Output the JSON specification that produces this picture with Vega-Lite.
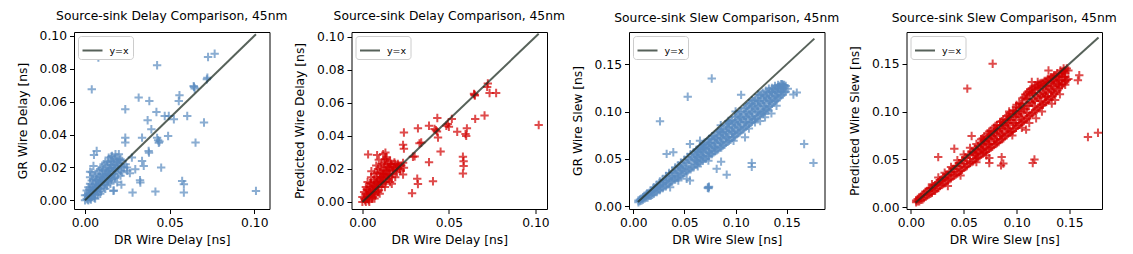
{
"$schema": "https://vega.github.io/schema/vega-lite/v6.json",
"padding": {"left": 15, "top": 9, "right": 5, "bottom": 2},
"bounds": "flush",
"spacing": 81.5,
"config": {
  "font": "DejaVu Sans",
  "view": {"stroke": "black", "strokeWidth": 1},
  "axis": {"grid": false, "domain": false, "tickColor": "black", "tickWidth": 1, "tickSize": 4.5, "labelFontSize": 12.3, "labelColor": "black", "labelPadding": 3, "titleFontSize": 12.3, "titleFontWeight": "normal", "titleColor": "black", "labelFlush": false, "labelOverlap": false, "format": ".2f"},
  "axisY": {"titlePadding": 10},
  "axisX": {"titlePadding": 5},
  "title": {"fontSize": 12.3, "fontWeight": "normal", "color": "black", "offset": 8},
  "legend": {"orient": "top-left", "offset": 4, "padding": 3.5, "strokeColor": "#cccccc", "fillColor": "white", "cornerRadius": 3, "symbolType": "stroke", "symbolSize": 400, "symbolStrokeWidth": 2, "symbolOpacity": 0.74, "labelFontSize": 9.5, "labelColor": "black", "labelOffset": 6}
},
"datasets": {
"d1": [
{"x":0,"y":0},{"x":0.001,"y":0.001},{"x":0.002,"y":0},{"x":0.001,"y":0.003},{"x":0.003,"y":0.001},{"x":0.002,"y":0.004},{"x":0.003,"y":0.006},{"x":0.004,"y":0.002},{"x":0.004,"y":0.008},{"x":0.005,"y":0.004},{"x":0.005,"y":0.006},{"x":0.006,"y":0.01},{"x":0.006,"y":0.003},{"x":0.007,"y":0.007},{"x":0.007,"y":0.012},{"x":0.008,"y":0.005},{"x":0.008,"y":0.009},{"x":0.009,"y":0.014},{"x":0.009,"y":0.007},{"x":0.01,"y":0.011},{"x":0.01,"y":0.016},{"x":0.011,"y":0.008},{"x":0.011,"y":0.013},{"x":0.012,"y":0.018},{"x":0.012,"y":0.011},{"x":0.013,"y":0.015},{"x":0.013,"y":0.021},{"x":0.014,"y":0.012},{"x":0.014,"y":0.018},{"x":0.015,"y":0.024},{"x":0.015,"y":0.015},{"x":0.016,"y":0.02},{"x":0.016,"y":0.027},{"x":0.017,"y":0.016},{"x":0.017,"y":0.022},{"x":0.018,"y":0.028},{"x":0.018,"y":0.019},{"x":0.019,"y":0.025},{"x":0.02,"y":0.021},{"x":0.02,"y":0.028},{"x":0.021,"y":0.018},{"x":0.022,"y":0.024},{"x":0.023,"y":0.02},{"x":0.024,"y":0.022},{"x":0.025,"y":0.018},{"x":0.002,"y":0.008},{"x":0.004,"y":0.012},{"x":0.006,"y":0.015},{"x":0.008,"y":0.018},{"x":0.01,"y":0.02},{"x":0.012,"y":0.023},{"x":0.014,"y":0.026},{"x":0.001,"y":0.006},{"x":0.003,"y":0.01},{"x":0.005,"y":0.013},{"x":0.007,"y":0.016},{"x":0.009,"y":0.019},{"x":0.011,"y":0.022},{"x":0,"y":0.003},{"x":0.006,"y":0.001},{"x":0.009,"y":0.004},{"x":0.012,"y":0.007},{"x":0.015,"y":0.01},{"x":0.018,"y":0.014},{"x":0.021,"y":0.015},{"x":0.017,"y":0.006},{"x":0.013,"y":0.009},{"x":0.019,"y":0.011},{"x":0.022,"y":0.017},{"x":0.016,"y":0.013},{"x":0.003,"y":0.003},{"x":0.006,"y":0.006},{"x":0.009,"y":0.01},{"x":0.012,"y":0.014},{"x":0.015,"y":0.019},{"x":0.019,"y":0.02},{"x":0.021,"y":0.025},{"x":0.004,"y":0.017},{"x":0.003,"y":0.014},
{"x":0.0015,"y":0.0005},{"x":0.0025,"y":0.0025},{"x":0.0035,"y":0.0045},{"x":0.0045,"y":0.0055},{"x":0.0055,"y":0.0075},{"x":0.0065,"y":0.0085},{"x":0.0075,"y":0.0095},{"x":0.0085,"y":0.0115},{"x":0.0095,"y":0.0125},{"x":0.0105,"y":0.0135},{"x":0.0115,"y":0.0155},{"x":0.0125,"y":0.0165},{"x":0.0135,"y":0.0175},{"x":0.0145,"y":0.0195},{"x":0.0155,"y":0.0215},{"x":0.0165,"y":0.0235},{"x":0.0175,"y":0.0255},{"x":0.0185,"y":0.0235},{"x":0.0195,"y":0.0225},{"x":0.0205,"y":0.0245},{"x":0.0135,"y":0.0235},{"x":0.0155,"y":0.0265},{"x":0.0175,"y":0.0195},{"x":0.0105,"y":0.0185},{"x":0.0085,"y":0.0145},{"x":0.0065,"y":0.0125},{"x":0.0045,"y":0.0095},{"x":0.0025,"y":0.0065},{"x":0.0035,"y":0.0005},{"x":0.0055,"y":0.0015},{"x":0.0075,"y":0.0035},{"x":0.0095,"y":0.0055},{"x":0.0115,"y":0.0095},{"x":0.0135,"y":0.0115},{"x":0.0155,"y":0.0125},{"x":0.0175,"y":0.0135},{"x":0.0195,"y":0.0165},{"x":0.0215,"y":0.0205},{"x":0.0165,"y":0.0175},{"x":0.0145,"y":0.0155},
{"x":0.0079,"y":0.0868},{"x":0.004,"y":0.0675},{"x":0.0426,"y":0.0822},{"x":0.0727,"y":0.0872},{"x":0.0766,"y":0.0892},{"x":0.0723,"y":0.0746},{"x":0.072,"y":0.0736},{"x":0.0644,"y":0.069},{"x":0.0648,"y":0.068},{"x":0.0642,"y":0.0695},{"x":0.0558,"y":0.0639},{"x":0.0554,"y":0.0604},{"x":0.0317,"y":0.0625},{"x":0.038,"y":0.0604},{"x":0.0238,"y":0.0554},{"x":0.0422,"y":0.0537},{"x":0.037,"y":0.0487},{"x":0.0392,"y":0.0432},{"x":0.0471,"y":0.0513},{"x":0.0495,"y":0.0513},{"x":0.0525,"y":0.0493},{"x":0.0604,"y":0.0513},{"x":0.0703,"y":0.0473},{"x":0.0491,"y":0.0391},{"x":0.0238,"y":0.0381},{"x":0.0238,"y":0.0351},{"x":0.0337,"y":0.0381},{"x":0.0376,"y":0.03},{"x":0.0378,"y":0.029},{"x":0.0426,"y":0.038},{"x":0.0432,"y":0.0365},{"x":0.0436,"y":0.035},{"x":0.044,"y":0.0358},{"x":0.0653,"y":0.0351},{"x":0.0277,"y":0.026},{"x":0.0337,"y":0.0239},{"x":0.0347,"y":0.0209},{"x":0.045,"y":0.0199},{"x":0.0297,"y":0.0189},{"x":0.0327,"y":0.0108},{"x":0.0325,"y":0.0122},{"x":0.0416,"y":0.0053},{"x":0.0281,"y":0.0047},{"x":0.0574,"y":0.0118},{"x":0.0584,"y":0.0097},{"x":0.0584,"y":0.0047},{"x":0.101,"y":0.0057},{"x":0.0053,"y":0.0276},{"x":0.0069,"y":0.03},{"x":0.005,"y":0.0209},{"x":0.003,"y":0.0174},{"x":0.0168,"y":0.0057},{"x":0.0248,"y":0.0199},{"x":0.0265,"y":0.0165},{"x":0.0215,"y":0.0095}
],
"d2": [
{"x":0,"y":0},{"x":0.001,"y":0.002},{"x":0.002,"y":0},{"x":0.002,"y":0.005},{"x":0.003,"y":0.002},{"x":0.003,"y":0.007},{"x":0.004,"y":0.003},{"x":0.004,"y":0.009},{"x":0.005,"y":0.005},{"x":0.005,"y":0.011},{"x":0.006,"y":0.003},{"x":0.006,"y":0.008},{"x":0.007,"y":0.006},{"x":0.007,"y":0.012},{"x":0.008,"y":0.009},{"x":0.008,"y":0.015},{"x":0.009,"y":0.006},{"x":0.009,"y":0.011},{"x":0.01,"y":0.014},{"x":0.01,"y":0.018},{"x":0.011,"y":0.009},{"x":0.011,"y":0.015},{"x":0.012,"y":0.012},{"x":0.012,"y":0.019},{"x":0.013,"y":0.016},{"x":0.013,"y":0.022},{"x":0.014,"y":0.013},{"x":0.014,"y":0.019},{"x":0.015,"y":0.017},{"x":0.015,"y":0.023},{"x":0.016,"y":0.02},{"x":0.017,"y":0.015},{"x":0.017,"y":0.022},{"x":0.018,"y":0.019},{"x":0.019,"y":0.023},{"x":0.02,"y":0.018},{"x":0.02,"y":0.021},{"x":0.021,"y":0.022},{"x":0.022,"y":0.019},{"x":0.001,"y":0.006},{"x":0.002,"y":0.009},{"x":0.003,"y":0.012},{"x":0.005,"y":0.015},{"x":0.007,"y":0.017},{"x":0.009,"y":0.02},{"x":0.011,"y":0.023},{"x":0.013,"y":0.026},{"x":0.004,"y":0},{"x":0.007,"y":0.002},{"x":0.01,"y":0.005},{"x":0.013,"y":0.009},{"x":0.016,"y":0.012},{"x":0.019,"y":0.015},{"x":0.003,"y":0.004},{"x":0.006,"y":0.006},{"x":0.009,"y":0.009},{"x":0.012,"y":0.015},{"x":0.015,"y":0.014},{"x":0.018,"y":0.021},{"x":0.014,"y":0.027},{"x":0.016,"y":0.025},{"x":0.012,"y":0.029},{"x":0.008,"y":0.022},{"x":0,"y":0.003},{"x":0.017,"y":0.011},
{"x":0.0015,"y":0.001},{"x":0.0025,"y":0.003},{"x":0.0035,"y":0.005},{"x":0.0045,"y":0.006},{"x":0.0055,"y":0.008},{"x":0.0065,"y":0.01},{"x":0.0075,"y":0.01},{"x":0.0085,"y":0.012},{"x":0.0095,"y":0.013},{"x":0.0105,"y":0.015},{"x":0.0115,"y":0.017},{"x":0.0125,"y":0.017},{"x":0.0135,"y":0.019},{"x":0.0145,"y":0.021},{"x":0.0155,"y":0.021},{"x":0.0165,"y":0.023},{"x":0.0175,"y":0.019},{"x":0.0185,"y":0.024},{"x":0.0195,"y":0.02},{"x":0.0205,"y":0.023},{"x":0.0025,"y":0.0075},{"x":0.0045,"y":0.0115},{"x":0.0065,"y":0.0135},{"x":0.0085,"y":0.0175},{"x":0.0105,"y":0.021},{"x":0.0125,"y":0.024},{"x":0.0035,"y":0.001},{"x":0.0055,"y":0.002},{"x":0.0075,"y":0.004},{"x":0.0095,"y":0.007},{"x":0.0115,"y":0.011},{"x":0.0135,"y":0.012},{"x":0.0155,"y":0.016},{"x":0.0175,"y":0.017},{"x":0.0145,"y":0.016},{"x":0.0105,"y":0.012},{"x":0.0065,"y":0.005},{"x":0.0215,"y":0.02},{"x":0.0225,"y":0.022},{"x":0.0095,"y":0.0255},
{"x":0.1019,"y":0.0466},{"x":0.0725,"y":0.0718},{"x":0.0721,"y":0.0697},{"x":0.0773,"y":0.066},{"x":0.0735,"y":0.066},{"x":0.0706,"y":0.0524},{"x":0.0652,"y":0.0503},{"x":0.0648,"y":0.065},{"x":0.0645,"y":0.0655},{"x":0.065,"y":0.0645},{"x":0.0517,"y":0.0503},{"x":0.0494,"y":0.0472},{"x":0.0485,"y":0.0462},{"x":0.05,"y":0.0455},{"x":0.0433,"y":0.0509},{"x":0.0321,"y":0.0446},{"x":0.0385,"y":0.0462},{"x":0.0417,"y":0.0442},{"x":0.0431,"y":0.0427},{"x":0.0437,"y":0.039},{"x":0.0425,"y":0.0435},{"x":0.0548,"y":0.0425},{"x":0.0604,"y":0.0446},{"x":0.0596,"y":0.0411},{"x":0.06,"y":0.04},{"x":0.024,"y":0.0421},{"x":0.0235,"y":0.0346},{"x":0.024,"y":0.0323},{"x":0.034,"y":0.036},{"x":0.033,"y":0.0355},{"x":0.0385,"y":0.0241},{"x":0.0452,"y":0.0305},{"x":0.0292,"y":0.0274},{"x":0.0302,"y":0.0276},{"x":0.0581,"y":0.0274},{"x":0.0585,"y":0.0247},{"x":0.0585,"y":0.0217},{"x":0.0581,"y":0.0172},{"x":0.0408,"y":0.0125},{"x":0.0317,"y":0.0141},{"x":0.0321,"y":0.0108},{"x":0.0287,"y":0.0053},{"x":0.0235,"y":0.0237},{"x":0.024,"y":0.0207},{"x":0.0033,"y":0.0288},{"x":0.0085,"y":0.0284},{"x":0.0133,"y":0.0299},{"x":0.0138,"y":0.0258},{"x":0.0052,"y":0.0186},{"x":0.0235,"y":0.0166}
],
"d3": [
{"x":0.005,"y":0.004},{"x":0.005,"y":0.006},{"x":0.008,"y":0.006},{"x":0.008,"y":0.008},{"x":0.011,"y":0.008},{"x":0.011,"y":0.011},{"x":0.014,"y":0.009},{"x":0.014,"y":0.013},{"x":0.017,"y":0.011},{"x":0.017,"y":0.016},{"x":0.02,"y":0.013},{"x":0.02,"y":0.017},{"x":0.02,"y":0.02},{"x":0.023,"y":0.015},{"x":0.023,"y":0.02},{"x":0.026,"y":0.017},{"x":0.026,"y":0.022},{"x":0.026,"y":0.026},{"x":0.029,"y":0.019},{"x":0.029,"y":0.025},{"x":0.032,"y":0.021},{"x":0.032,"y":0.027},{"x":0.032,"y":0.032},{"x":0.035,"y":0.024},{"x":0.035,"y":0.03},{"x":0.035,"y":0.035},{"x":0.038,"y":0.026},{"x":0.038,"y":0.032},{"x":0.041,"y":0.028},{"x":0.041,"y":0.035},{"x":0.041,"y":0.041},{"x":0.044,"y":0.03},{"x":0.044,"y":0.037},{"x":0.044,"y":0.043},{"x":0.047,"y":0.032},{"x":0.047,"y":0.04},{"x":0.05,"y":0.035},{"x":0.05,"y":0.042},{"x":0.05,"y":0.049},{"x":0.053,"y":0.037},{"x":0.053,"y":0.045},{"x":0.056,"y":0.039},{"x":0.056,"y":0.047},{"x":0.056,"y":0.055},{"x":0.059,"y":0.041},{"x":0.059,"y":0.05},{"x":0.059,"y":0.057},{"x":0.062,"y":0.044},{"x":0.062,"y":0.052},{"x":0.065,"y":0.046},{"x":0.065,"y":0.054},{"x":0.065,"y":0.063},{"x":0.068,"y":0.048},{"x":0.068,"y":0.057},{"x":0.068,"y":0.065},{"x":0.071,"y":0.05},{"x":0.071,"y":0.06},{"x":0.074,"y":0.053},{"x":0.074,"y":0.062},{"x":0.074,"y":0.071},{"x":0.077,"y":0.055},{"x":0.077,"y":0.064},{"x":0.077,"y":0.074},{"x":0.08,"y":0.058},{"x":0.08,"y":0.067},{"x":0.083,"y":0.06},{"x":0.083,"y":0.07},{"x":0.083,"y":0.079},{"x":0.086,"y":0.062},{"x":0.086,"y":0.072},{"x":0.086,"y":0.081},{"x":0.089,"y":0.065},{"x":0.089,"y":0.075},{"x":0.092,"y":0.068},{"x":0.092,"y":0.078},{"x":0.092,"y":0.087},{"x":0.095,"y":0.07},{"x":0.095,"y":0.08},{"x":0.095,"y":0.09},{"x":0.098,"y":0.073},{"x":0.098,"y":0.083},{"x":0.101,"y":0.076},{"x":0.101,"y":0.086},{"x":0.101,"y":0.095},{"x":0.104,"y":0.078},{"x":0.104,"y":0.089},{"x":0.104,"y":0.1},{"x":0.107,"y":0.081},{"x":0.107,"y":0.092},{"x":0.11,"y":0.084},{"x":0.11,"y":0.094},{"x":0.11,"y":0.104},{"x":0.113,"y":0.087},{"x":0.113,"y":0.097},{"x":0.113,"y":0.108},{"x":0.116,"y":0.089},{"x":0.116,"y":0.1},{"x":0.119,"y":0.092},{"x":0.119,"y":0.103},{"x":0.119,"y":0.112},{"x":0.122,"y":0.095},{"x":0.122,"y":0.106},{"x":0.125,"y":0.098},{"x":0.125,"y":0.109},{"x":0.125,"y":0.118},{"x":0.128,"y":0.1},{"x":0.128,"y":0.111},{"x":0.131,"y":0.103},{"x":0.131,"y":0.114},{"x":0.131,"y":0.121},{"x":0.134,"y":0.106},{"x":0.134,"y":0.116},{"x":0.137,"y":0.11},{"x":0.137,"y":0.119},{"x":0.137,"y":0.124},{"x":0.14,"y":0.112},{"x":0.14,"y":0.121},{"x":0.143,"y":0.115},{"x":0.143,"y":0.124},{"x":0.143,"y":0.127},{"x":0.146,"y":0.118},{"x":0.146,"y":0.126},{"x":0.149,"y":0.121},{"x":0.149,"y":0.127},{"x":0.151,"y":0.124},
{"x":0.0065,"y":0.0055},{"x":0.0065,"y":0.007},{"x":0.0095,"y":0.007},{"x":0.0095,"y":0.0095},{"x":0.0125,"y":0.009},{"x":0.0125,"y":0.012},{"x":0.0155,"y":0.011},{"x":0.0155,"y":0.014},{"x":0.0185,"y":0.012},{"x":0.0185,"y":0.016},{"x":0.0215,"y":0.015},{"x":0.0215,"y":0.019},{"x":0.0245,"y":0.017},{"x":0.0245,"y":0.021},{"x":0.0275,"y":0.019},{"x":0.0275,"y":0.024},{"x":0.0305,"y":0.021},{"x":0.0305,"y":0.027},{"x":0.0335,"y":0.023},{"x":0.0335,"y":0.029},{"x":0.0365,"y":0.026},{"x":0.0365,"y":0.032},{"x":0.0395,"y":0.028},{"x":0.0395,"y":0.035},{"x":0.0425,"y":0.03},{"x":0.0425,"y":0.038},{"x":0.0455,"y":0.032},{"x":0.0455,"y":0.041},{"x":0.0485,"y":0.034},{"x":0.0485,"y":0.043},{"x":0.0515,"y":0.037},{"x":0.0515,"y":0.046},{"x":0.0545,"y":0.039},{"x":0.0545,"y":0.049},{"x":0.0575,"y":0.041},{"x":0.0575,"y":0.052},{"x":0.0605,"y":0.044},{"x":0.0605,"y":0.054},{"x":0.0635,"y":0.046},{"x":0.0635,"y":0.057},{"x":0.0665,"y":0.048},{"x":0.0665,"y":0.06},{"x":0.0695,"y":0.05},{"x":0.0695,"y":0.062},{"x":0.0725,"y":0.053},{"x":0.0725,"y":0.065},{"x":0.0755,"y":0.055},{"x":0.0755,"y":0.067},{"x":0.0785,"y":0.057},{"x":0.0785,"y":0.07},{"x":0.0815,"y":0.059},{"x":0.0815,"y":0.072},{"x":0.0845,"y":0.062},{"x":0.0845,"y":0.075},{"x":0.0875,"y":0.064},{"x":0.0875,"y":0.078},{"x":0.0905,"y":0.067},{"x":0.0905,"y":0.08},{"x":0.0935,"y":0.069},{"x":0.0935,"y":0.083},{"x":0.0965,"y":0.072},{"x":0.0965,"y":0.086},{"x":0.0995,"y":0.074},{"x":0.0995,"y":0.089},{"x":0.1025,"y":0.077},{"x":0.1025,"y":0.091},{"x":0.1055,"y":0.08},{"x":0.1055,"y":0.094},{"x":0.1085,"y":0.082},{"x":0.1085,"y":0.097},{"x":0.1115,"y":0.085},{"x":0.1115,"y":0.1},{"x":0.1145,"y":0.088},{"x":0.1145,"y":0.103},{"x":0.1175,"y":0.091},{"x":0.1175,"y":0.106},{"x":0.1205,"y":0.093},{"x":0.1205,"y":0.108},{"x":0.1235,"y":0.096},{"x":0.1235,"y":0.111},{"x":0.1265,"y":0.099},{"x":0.1265,"y":0.114},{"x":0.1295,"y":0.102},{"x":0.1295,"y":0.116},{"x":0.1325,"y":0.105},{"x":0.1325,"y":0.119},{"x":0.1355,"y":0.108},{"x":0.1355,"y":0.121},{"x":0.1385,"y":0.111},{"x":0.1385,"y":0.123},{"x":0.1415,"y":0.114},{"x":0.1415,"y":0.125},{"x":0.1445,"y":0.117},{"x":0.1445,"y":0.125},{"x":0.1475,"y":0.12},{"x":0.1475,"y":0.128},
{"x":0.0605,"y":0.049},{"x":0.0635,"y":0.052},{"x":0.0635,"y":0.06},{"x":0.0665,"y":0.054},{"x":0.0665,"y":0.062},{"x":0.0695,"y":0.056},{"x":0.0695,"y":0.065},{"x":0.0725,"y":0.059},{"x":0.0725,"y":0.069},{"x":0.0755,"y":0.061},{"x":0.0755,"y":0.071},{"x":0.0785,"y":0.063},{"x":0.0785,"y":0.074},{"x":0.0815,"y":0.066},{"x":0.0815,"y":0.077},{"x":0.0845,"y":0.068},{"x":0.0845,"y":0.079},{"x":0.0875,"y":0.071},{"x":0.0875,"y":0.082},{"x":0.0905,"y":0.073},{"x":0.0905,"y":0.085},{"x":0.0935,"y":0.076},{"x":0.0935,"y":0.088},{"x":0.0965,"y":0.079},{"x":0.0965,"y":0.091},{"x":0.0995,"y":0.081},{"x":0.0995,"y":0.094},{"x":0.1025,"y":0.084},{"x":0.1025,"y":0.097},{"x":0.1055,"y":0.087},{"x":0.1055,"y":0.1},{"x":0.1085,"y":0.089},{"x":0.1085,"y":0.103},{"x":0.1115,"y":0.092},{"x":0.1115,"y":0.106},{"x":0.1145,"y":0.095},{"x":0.1145,"y":0.109},{"x":0.1175,"y":0.098},{"x":0.1175,"y":0.111},{"x":0.1205,"y":0.1},{"x":0.1205,"y":0.114},{"x":0.1235,"y":0.103},{"x":0.1235,"y":0.117},{"x":0.1265,"y":0.106},{"x":0.1265,"y":0.12},{"x":0.1295,"y":0.109},{"x":0.1295,"y":0.122},{"x":0.1325,"y":0.112},{"x":0.1325,"y":0.124},{"x":0.1355,"y":0.114},{"x":0.1355,"y":0.125},{"x":0.1385,"y":0.117},{"x":0.1385,"y":0.127},{"x":0.1415,"y":0.12},{"x":0.1415,"y":0.128},{"x":0.1445,"y":0.121},{"x":0.1445,"y":0.129},
{"x":0.062,"y":0.048},{"x":0.062,"y":0.058},{"x":0.068,"y":0.052},{"x":0.068,"y":0.061},{"x":0.074,"y":0.057},{"x":0.074,"y":0.067},{"x":0.08,"y":0.062},{"x":0.08,"y":0.072},{"x":0.086,"y":0.067},{"x":0.086,"y":0.077},{"x":0.092,"y":0.073},{"x":0.092,"y":0.083},{"x":0.098,"y":0.078},{"x":0.098,"y":0.088},{"x":0.104,"y":0.083},{"x":0.104,"y":0.094},{"x":0.11,"y":0.089},{"x":0.11,"y":0.099},{"x":0.116,"y":0.094},{"x":0.116,"y":0.105},{"x":0.122,"y":0.1},{"x":0.122,"y":0.111},{"x":0.128,"y":0.105},{"x":0.128,"y":0.116},{"x":0.134,"y":0.111},{"x":0.134,"y":0.121},{"x":0.14,"y":0.116},{"x":0.14,"y":0.125},{"x":0.146,"y":0.122},{"x":0.146,"y":0.128},
{"x":0.0135,"y":0.0135},{"x":0.0225,"y":0.022},{"x":0.0285,"y":0.028},{"x":0.038,"y":0.037},{"x":0.0465,"y":0.046},{"x":0.053,"y":0.052},{"x":0.0615,"y":0.059},{"x":0.0695,"y":0.067},
{"x":0.0767,"y":0.1349},{"x":0.0532,"y":0.1156},{"x":0.0261,"y":0.0896},{"x":0.1054,"y":0.1176},{"x":0.1598,"y":0.12},{"x":0.1565,"y":0.118},{"x":0.167,"y":0.0657},{"x":0.1761,"y":0.0457},{"x":0.1158,"y":0.0457},{"x":0.1158,"y":0.0415},{"x":0.0858,"y":0.047},{"x":0.0815,"y":0.0394},{"x":0.0913,"y":0.0333},{"x":0.0734,"y":0.02},{"x":0.0728,"y":0.0195},{"x":0.074,"y":0.0205},{"x":0.0736,"y":0.0188},{"x":0.0554,"y":0.0271},{"x":0.0391,"y":0.0569},{"x":0.0326,"y":0.0552},{"x":0.0554,"y":0.0656},{"x":0.0652,"y":0.0691},{"x":0.1092,"y":0.0727},{"x":0.0734,"y":0.0481},{"x":0.1288,"y":0.0939},{"x":0.1272,"y":0.0974},{"x":0.1321,"y":0.1009},{"x":0.119,"y":0.0885},{"x":0.0473,"y":0.0394},{"x":0.0522,"y":0.0289},{"x":0.1468,"y":0.1271},{"x":0.1475,"y":0.1245},{"x":0.1455,"y":0.129},{"x":0.14,"y":0.106},{"x":0.135,"y":0.098},{"x":0.124,"y":0.09},{"x":0.113,"y":0.082},{"x":0.098,"y":0.069},{"x":0.063,"y":0.042},{"x":0.044,"y":0.027},{"x":0.036,"y":0.02},{"x":0.122,"y":0.118},{"x":0.116,"y":0.112},{"x":0.1,"y":0.1},{"x":0.093,"y":0.09},{"x":0.0855,"y":0.0855}
],
"d4": [
{"x":0.005,"y":0.005},{"x":0.005,"y":0.007},{"x":0.008,"y":0.006},{"x":0.008,"y":0.01},{"x":0.011,"y":0.008},{"x":0.011,"y":0.013},{"x":0.014,"y":0.011},{"x":0.014,"y":0.016},{"x":0.017,"y":0.013},{"x":0.017,"y":0.019},{"x":0.02,"y":0.015},{"x":0.02,"y":0.02},{"x":0.02,"y":0.024},{"x":0.023,"y":0.017},{"x":0.023,"y":0.023},{"x":0.026,"y":0.02},{"x":0.026,"y":0.026},{"x":0.026,"y":0.031},{"x":0.029,"y":0.023},{"x":0.029,"y":0.029},{"x":0.032,"y":0.025},{"x":0.032,"y":0.031},{"x":0.032,"y":0.036},{"x":0.035,"y":0.028},{"x":0.035,"y":0.034},{"x":0.038,"y":0.03},{"x":0.038,"y":0.037},{"x":0.038,"y":0.042},{"x":0.041,"y":0.033},{"x":0.041,"y":0.04},{"x":0.044,"y":0.035},{"x":0.044,"y":0.043},{"x":0.044,"y":0.049},{"x":0.047,"y":0.038},{"x":0.047,"y":0.046},{"x":0.05,"y":0.041},{"x":0.05,"y":0.048},{"x":0.05,"y":0.055},{"x":0.053,"y":0.043},{"x":0.053,"y":0.051},{"x":0.056,"y":0.046},{"x":0.056,"y":0.054},{"x":0.056,"y":0.062},{"x":0.059,"y":0.048},{"x":0.059,"y":0.057},{"x":0.062,"y":0.051},{"x":0.062,"y":0.06},{"x":0.062,"y":0.066},{"x":0.065,"y":0.053},{"x":0.065,"y":0.062},{"x":0.068,"y":0.056},{"x":0.068,"y":0.065},{"x":0.068,"y":0.072},{"x":0.071,"y":0.058},{"x":0.071,"y":0.068},{"x":0.074,"y":0.061},{"x":0.074,"y":0.071},{"x":0.074,"y":0.079},{"x":0.077,"y":0.063},{"x":0.077,"y":0.074},{"x":0.08,"y":0.066},{"x":0.08,"y":0.077},{"x":0.08,"y":0.085},{"x":0.083,"y":0.068},{"x":0.083,"y":0.079},{"x":0.086,"y":0.071},{"x":0.086,"y":0.082},{"x":0.086,"y":0.09},{"x":0.089,"y":0.074},{"x":0.089,"y":0.085},{"x":0.092,"y":0.077},{"x":0.092,"y":0.088},{"x":0.092,"y":0.096},{"x":0.095,"y":0.079},{"x":0.095,"y":0.091},{"x":0.098,"y":0.082},{"x":0.098,"y":0.094},{"x":0.098,"y":0.101},{"x":0.101,"y":0.085},{"x":0.101,"y":0.097},{"x":0.104,"y":0.088},{"x":0.104,"y":0.1},{"x":0.104,"y":0.108},{"x":0.107,"y":0.09},{"x":0.107,"y":0.103},{"x":0.107,"y":0.115},{"x":0.11,"y":0.093},{"x":0.11,"y":0.106},{"x":0.11,"y":0.12},{"x":0.113,"y":0.096},{"x":0.113,"y":0.11},{"x":0.113,"y":0.123},{"x":0.116,"y":0.099},{"x":0.116,"y":0.113},{"x":0.116,"y":0.125},{"x":0.119,"y":0.102},{"x":0.119,"y":0.116},{"x":0.119,"y":0.127},{"x":0.122,"y":0.105},{"x":0.122,"y":0.118},{"x":0.122,"y":0.129},{"x":0.125,"y":0.107},{"x":0.125,"y":0.12},{"x":0.125,"y":0.13},{"x":0.128,"y":0.11},{"x":0.128,"y":0.122},{"x":0.128,"y":0.132},{"x":0.131,"y":0.113},{"x":0.131,"y":0.124},{"x":0.131,"y":0.134},{"x":0.134,"y":0.116},{"x":0.134,"y":0.127},{"x":0.134,"y":0.136},{"x":0.137,"y":0.12},{"x":0.137,"y":0.13},{"x":0.137,"y":0.138},{"x":0.14,"y":0.124},{"x":0.14,"y":0.133},{"x":0.143,"y":0.128},{"x":0.143,"y":0.137},{"x":0.143,"y":0.141},{"x":0.146,"y":0.132},{"x":0.146,"y":0.14},{"x":0.149,"y":0.134},{"x":0.149,"y":0.143},
{"x":0.0065,"y":0.006},{"x":0.0065,"y":0.0085},{"x":0.0095,"y":0.0075},{"x":0.0095,"y":0.011},{"x":0.0125,"y":0.0095},{"x":0.0125,"y":0.014},{"x":0.0155,"y":0.012},{"x":0.0155,"y":0.017},{"x":0.0185,"y":0.014},{"x":0.0185,"y":0.02},{"x":0.0215,"y":0.017},{"x":0.0215,"y":0.022},{"x":0.0245,"y":0.019},{"x":0.0245,"y":0.025},{"x":0.0275,"y":0.022},{"x":0.0275,"y":0.028},{"x":0.0305,"y":0.024},{"x":0.0305,"y":0.031},{"x":0.0335,"y":0.027},{"x":0.0335,"y":0.034},{"x":0.0365,"y":0.029},{"x":0.0365,"y":0.037},{"x":0.0395,"y":0.032},{"x":0.0395,"y":0.04},{"x":0.0425,"y":0.034},{"x":0.0425,"y":0.043},{"x":0.0455,"y":0.037},{"x":0.0455,"y":0.046},{"x":0.0485,"y":0.039},{"x":0.0485,"y":0.049},{"x":0.0515,"y":0.042},{"x":0.0515,"y":0.052},{"x":0.0545,"y":0.045},{"x":0.0545,"y":0.055},{"x":0.0575,"y":0.047},{"x":0.0575,"y":0.058},{"x":0.0605,"y":0.05},{"x":0.0605,"y":0.061},{"x":0.0635,"y":0.052},{"x":0.0635,"y":0.064},{"x":0.0665,"y":0.055},{"x":0.0665,"y":0.067},{"x":0.0695,"y":0.057},{"x":0.0695,"y":0.07},{"x":0.0725,"y":0.06},{"x":0.0725,"y":0.073},{"x":0.0755,"y":0.062},{"x":0.0755,"y":0.076},{"x":0.0785,"y":0.065},{"x":0.0785,"y":0.079},{"x":0.0815,"y":0.067},{"x":0.0815,"y":0.082},{"x":0.0845,"y":0.07},{"x":0.0845,"y":0.085},{"x":0.0875,"y":0.072},{"x":0.0875,"y":0.088},{"x":0.0905,"y":0.075},{"x":0.0905,"y":0.091},{"x":0.0935,"y":0.078},{"x":0.0935,"y":0.094},{"x":0.0965,"y":0.08},{"x":0.0965,"y":0.097},{"x":0.0995,"y":0.083},{"x":0.0995,"y":0.1},{"x":0.1025,"y":0.086},{"x":0.1025,"y":0.104},{"x":0.1055,"y":0.089},{"x":0.1055,"y":0.108},{"x":0.1085,"y":0.092},{"x":0.1085,"y":0.113},{"x":0.1115,"y":0.095},{"x":0.1115,"y":0.117},{"x":0.1145,"y":0.098},{"x":0.1145,"y":0.12},{"x":0.1175,"y":0.101},{"x":0.1175,"y":0.122},{"x":0.1205,"y":0.104},{"x":0.1205,"y":0.124},{"x":0.1235,"y":0.107},{"x":0.1235,"y":0.125},{"x":0.1265,"y":0.109},{"x":0.1265,"y":0.127},{"x":0.1295,"y":0.112},{"x":0.1295,"y":0.129},{"x":0.1325,"y":0.115},{"x":0.1325,"y":0.131},{"x":0.1355,"y":0.118},{"x":0.1355,"y":0.134},{"x":0.1385,"y":0.122},{"x":0.1385,"y":0.136},{"x":0.1415,"y":0.126},{"x":0.1415,"y":0.139},{"x":0.1445,"y":0.13},{"x":0.1445,"y":0.142},{"x":0.1475,"y":0.133},{"x":0.1475,"y":0.145},
{"x":0.0605,"y":0.055},{"x":0.0635,"y":0.058},{"x":0.0665,"y":0.061},{"x":0.0665,"y":0.071},{"x":0.0695,"y":0.063},{"x":0.0695,"y":0.074},{"x":0.0725,"y":0.066},{"x":0.0725,"y":0.077},{"x":0.0755,"y":0.069},{"x":0.0755,"y":0.08},{"x":0.0785,"y":0.072},{"x":0.0785,"y":0.083},{"x":0.0815,"y":0.074},{"x":0.0815,"y":0.086},{"x":0.0845,"y":0.077},{"x":0.0845,"y":0.089},{"x":0.0875,"y":0.08},{"x":0.0875,"y":0.092},{"x":0.0905,"y":0.083},{"x":0.0905,"y":0.095},{"x":0.0935,"y":0.086},{"x":0.0935,"y":0.098},{"x":0.0965,"y":0.088},{"x":0.0965,"y":0.101},{"x":0.0995,"y":0.091},{"x":0.0995,"y":0.105},{"x":0.1025,"y":0.095},{"x":0.1025,"y":0.109},{"x":0.1055,"y":0.098},{"x":0.1055,"y":0.114},{"x":0.1085,"y":0.102},{"x":0.1085,"y":0.118},{"x":0.1115,"y":0.106},{"x":0.1115,"y":0.121},{"x":0.1145,"y":0.109},{"x":0.1145,"y":0.124},{"x":0.1175,"y":0.111},{"x":0.1175,"y":0.126},{"x":0.1205,"y":0.114},{"x":0.1205,"y":0.128},{"x":0.1235,"y":0.116},{"x":0.1235,"y":0.13},{"x":0.1265,"y":0.118},{"x":0.1265,"y":0.132},{"x":0.1295,"y":0.12},{"x":0.1295,"y":0.134},{"x":0.1325,"y":0.123},{"x":0.1325,"y":0.136},{"x":0.1355,"y":0.126},{"x":0.1355,"y":0.138},{"x":0.1385,"y":0.129},{"x":0.1385,"y":0.14},{"x":0.1415,"y":0.132},{"x":0.1415,"y":0.143},{"x":0.1445,"y":0.136},{"x":0.1445,"y":0.145},
{"x":0.062,"y":0.056},{"x":0.068,"y":0.06},{"x":0.068,"y":0.069},{"x":0.074,"y":0.066},{"x":0.074,"y":0.075},{"x":0.08,"y":0.071},{"x":0.08,"y":0.081},{"x":0.086,"y":0.076},{"x":0.086,"y":0.086},{"x":0.092,"y":0.082},{"x":0.092,"y":0.092},{"x":0.098,"y":0.088},{"x":0.098,"y":0.098},{"x":0.104,"y":0.094},{"x":0.104,"y":0.104},{"x":0.11,"y":0.099},{"x":0.11,"y":0.113},{"x":0.116,"y":0.106},{"x":0.116,"y":0.119},{"x":0.122,"y":0.111},{"x":0.122,"y":0.124},{"x":0.128,"y":0.116},{"x":0.128,"y":0.127},{"x":0.134,"y":0.121},{"x":0.134,"y":0.132},{"x":0.14,"y":0.128},{"x":0.14,"y":0.137},{"x":0.146,"y":0.136},{"x":0.146,"y":0.143},
{"x":0.0774,"y":0.15},{"x":0.0534,"y":0.124},{"x":0.1302,"y":0.143},{"x":0.1593,"y":0.1379},{"x":0.158,"y":0.1326},{"x":0.1675,"y":0.0733},{"x":0.177,"y":0.0778},{"x":0.1153,"y":0.0461},{"x":0.1169,"y":0.0499},{"x":0.0859,"y":0.0523},{"x":0.0853,"y":0.0436},{"x":0.0875,"y":0.0455},{"x":0.0742,"y":0.0461},{"x":0.0742,"y":0.0513},{"x":0.0259,"y":0.0523},{"x":0.0411,"y":0.0611},{"x":0.0575,"y":0.0744},{"x":0.109,"y":0.081},{"x":0.1144,"y":0.1309},{"x":0.1128,"y":0.1187},{"x":0.1333,"y":0.1082},{"x":0.1365,"y":0.112},{"x":0.124,"y":0.1},{"x":0.1185,"y":0.093},{"x":0.112,"y":0.088},{"x":0.105,"y":0.083},{"x":0.096,"y":0.075},{"x":0.0715,"y":0.054},{"x":0.062,"y":0.047},{"x":0.047,"y":0.033},{"x":0.035,"y":0.022},{"x":0.1,"y":0.107},{"x":0.093,"y":0.1},{"x":0.12,"y":0.131},{"x":0.146,"y":0.128},{"x":0.141,"y":0.118},{"x":0.127,"y":0.115}
]
},
"resolve": {"scale": {"x": "independent", "y": "independent", "color": "independent"}, "legend": {"color": "independent"}},
"hconcat": [
{
 "width": 195.5, "height": 177,
 "title": "Source-sink Delay Comparison, 45nm",
 "layer": [
  {"data": {"name": "d1"},
   "mark": {"type": "point", "shape": "M-1,0L1,0M0,-1L0,1", "filled": false, "strokeWidth": 2, "size": 70, "color": "#5a8bc0", "opacity": 0.7},
   "encoding": {
    "x": {"field": "x", "type": "quantitative", "scale": {"domain": [-0.0065, 0.109], "nice": false, "zero": false}, "axis": {"values": [0, 0.05, 0.1], "labelOverlap": false, "title": "DR Wire Delay [ns]"}},
    "y": {"field": "y", "type": "quantitative", "scale": {"domain": [-0.0053, 0.1024], "nice": false, "zero": false}, "axis": {"values": [0, 0.02, 0.04, 0.06, 0.08, 0.1], "labelOverlap": false, "title": "GR Wire Delay [ns]"}}}},
  {"data": {"values": [{"x": 0, "y": 0, "k": "y=x"}, {"x": 0.101, "y": 0.101, "k": "y=x"}]},
   "mark": {"type": "line", "strokeWidth": 2, "opacity": 0.74},
   "encoding": {
    "x": {"field": "x", "type": "quantitative", "scale": {"domain": [-0.0065, 0.109], "nice": false, "zero": false}, "axis": {"values": [0, 0.05, 0.1], "labelOverlap": false, "title": "DR Wire Delay [ns]"}},
    "y": {"field": "y", "type": "quantitative", "scale": {"domain": [-0.0053, 0.1024], "nice": false, "zero": false}, "axis": {"values": [0, 0.02, 0.04, 0.06, 0.08, 0.1], "labelOverlap": false, "title": "GR Wire Delay [ns]"}},
    "color": {"field": "k", "type": "nominal", "scale": {"range": ["#1c2b21"]}, "legend": {"title": null}}}}
 ]
},
{
 "width": 195.5, "height": 177,
 "title": "Source-sink Delay Comparison, 45nm",
 "layer": [
  {"data": {"name": "d2"},
   "mark": {"type": "point", "shape": "M-1,0L1,0M0,-1L0,1", "filled": false, "strokeWidth": 2, "size": 70, "color": "#d20000", "opacity": 0.7},
   "encoding": {
    "x": {"field": "x", "type": "quantitative", "scale": {"domain": [-0.0063, 0.1067], "nice": false, "zero": false}, "axis": {"values": [0, 0.05, 0.1], "labelOverlap": false, "title": "DR Wire Delay [ns]"}},
    "y": {"field": "y", "type": "quantitative", "scale": {"domain": [-0.0043, 0.103], "nice": false, "zero": false}, "axis": {"values": [0, 0.02, 0.04, 0.06, 0.08, 0.1], "labelOverlap": false, "title": "Predicted Wire Delay [ns]"}}}},
  {"data": {"values": [{"x": 0, "y": 0, "k": "y=x"}, {"x": 0.1019, "y": 0.1019, "k": "y=x"}]},
   "mark": {"type": "line", "strokeWidth": 2, "opacity": 0.74},
   "encoding": {
    "x": {"field": "x", "type": "quantitative", "scale": {"domain": [-0.0063, 0.1067], "nice": false, "zero": false}, "axis": {"values": [0, 0.05, 0.1], "labelOverlap": false, "title": "DR Wire Delay [ns]"}},
    "y": {"field": "y", "type": "quantitative", "scale": {"domain": [-0.0043, 0.103], "nice": false, "zero": false}, "axis": {"values": [0, 0.02, 0.04, 0.06, 0.08, 0.1], "labelOverlap": false, "title": "Predicted Wire Delay [ns]"}},
    "color": {"field": "k", "type": "nominal", "scale": {"range": ["#1c2b21"]}, "legend": {"title": null}}}}
 ]
},
{
 "width": 195.5, "height": 177,
 "title": "Source-sink Slew Comparison, 45nm",
 "layer": [
  {"data": {"name": "d3"},
   "mark": {"type": "point", "shape": "M-1,0L1,0M0,-1L0,1", "filled": false, "strokeWidth": 2, "size": 70, "color": "#5a8bc0", "opacity": 0.7},
   "encoding": {
    "x": {"field": "x", "type": "quantitative", "scale": {"domain": [-0.0042, 0.1869], "nice": false, "zero": false}, "axis": {"values": [0, 0.05, 0.1, 0.15], "labelOverlap": false, "title": "DR Wire Slew [ns]"}},
    "y": {"field": "y", "type": "quantitative", "scale": {"domain": [-0.003, 0.184], "nice": false, "zero": false}, "axis": {"values": [0, 0.05, 0.1, 0.15], "labelOverlap": false, "title": "GR Wire Slew [ns]"}}}},
  {"data": {"values": [{"x": 0.0045, "y": 0.0045, "k": "y=x"}, {"x": 0.177, "y": 0.177, "k": "y=x"}]},
   "mark": {"type": "line", "strokeWidth": 2, "opacity": 0.74},
   "encoding": {
    "x": {"field": "x", "type": "quantitative", "scale": {"domain": [-0.0042, 0.1869], "nice": false, "zero": false}, "axis": {"values": [0, 0.05, 0.1, 0.15], "labelOverlap": false, "title": "DR Wire Slew [ns]"}},
    "y": {"field": "y", "type": "quantitative", "scale": {"domain": [-0.003, 0.184], "nice": false, "zero": false}, "axis": {"values": [0, 0.05, 0.1, 0.15], "labelOverlap": false, "title": "GR Wire Slew [ns]"}},
    "color": {"field": "k", "type": "nominal", "scale": {"range": ["#1c2b21"]}, "legend": {"title": null}}}}
 ]
},
{
 "width": 195.5, "height": 177,
 "title": "Source-sink Slew Comparison, 45nm",
 "layer": [
  {"data": {"name": "d4"},
   "mark": {"type": "point", "shape": "M-1,0L1,0M0,-1L0,1", "filled": false, "strokeWidth": 2, "size": 70, "color": "#d20000", "opacity": 0.7},
   "encoding": {
    "x": {"field": "x", "type": "quantitative", "scale": {"domain": [-0.0041, 0.1808], "nice": false, "zero": false}, "axis": {"values": [0, 0.05, 0.1, 0.15], "labelOverlap": false, "title": "DR Wire Slew [ns]"}},
    "y": {"field": "y", "type": "quantitative", "scale": {"domain": [-0.002, 0.1832], "nice": false, "zero": false}, "axis": {"values": [0, 0.05, 0.1, 0.15], "labelOverlap": false, "title": "Predicted Wire Slew [ns]"}}}},
  {"data": {"values": [{"x": 0.0045, "y": 0.0045, "k": "y=x"}, {"x": 0.1775, "y": 0.1775, "k": "y=x"}]},
   "mark": {"type": "line", "strokeWidth": 2, "opacity": 0.74},
   "encoding": {
    "x": {"field": "x", "type": "quantitative", "scale": {"domain": [-0.0041, 0.1808], "nice": false, "zero": false}, "axis": {"values": [0, 0.05, 0.1, 0.15], "labelOverlap": false, "title": "DR Wire Slew [ns]"}},
    "y": {"field": "y", "type": "quantitative", "scale": {"domain": [-0.002, 0.1832], "nice": false, "zero": false}, "axis": {"values": [0, 0.05, 0.1, 0.15], "labelOverlap": false, "title": "Predicted Wire Slew [ns]"}},
    "color": {"field": "k", "type": "nominal", "scale": {"range": ["#1c2b21"]}, "legend": {"title": null}}}}
 ]
}
]
}
